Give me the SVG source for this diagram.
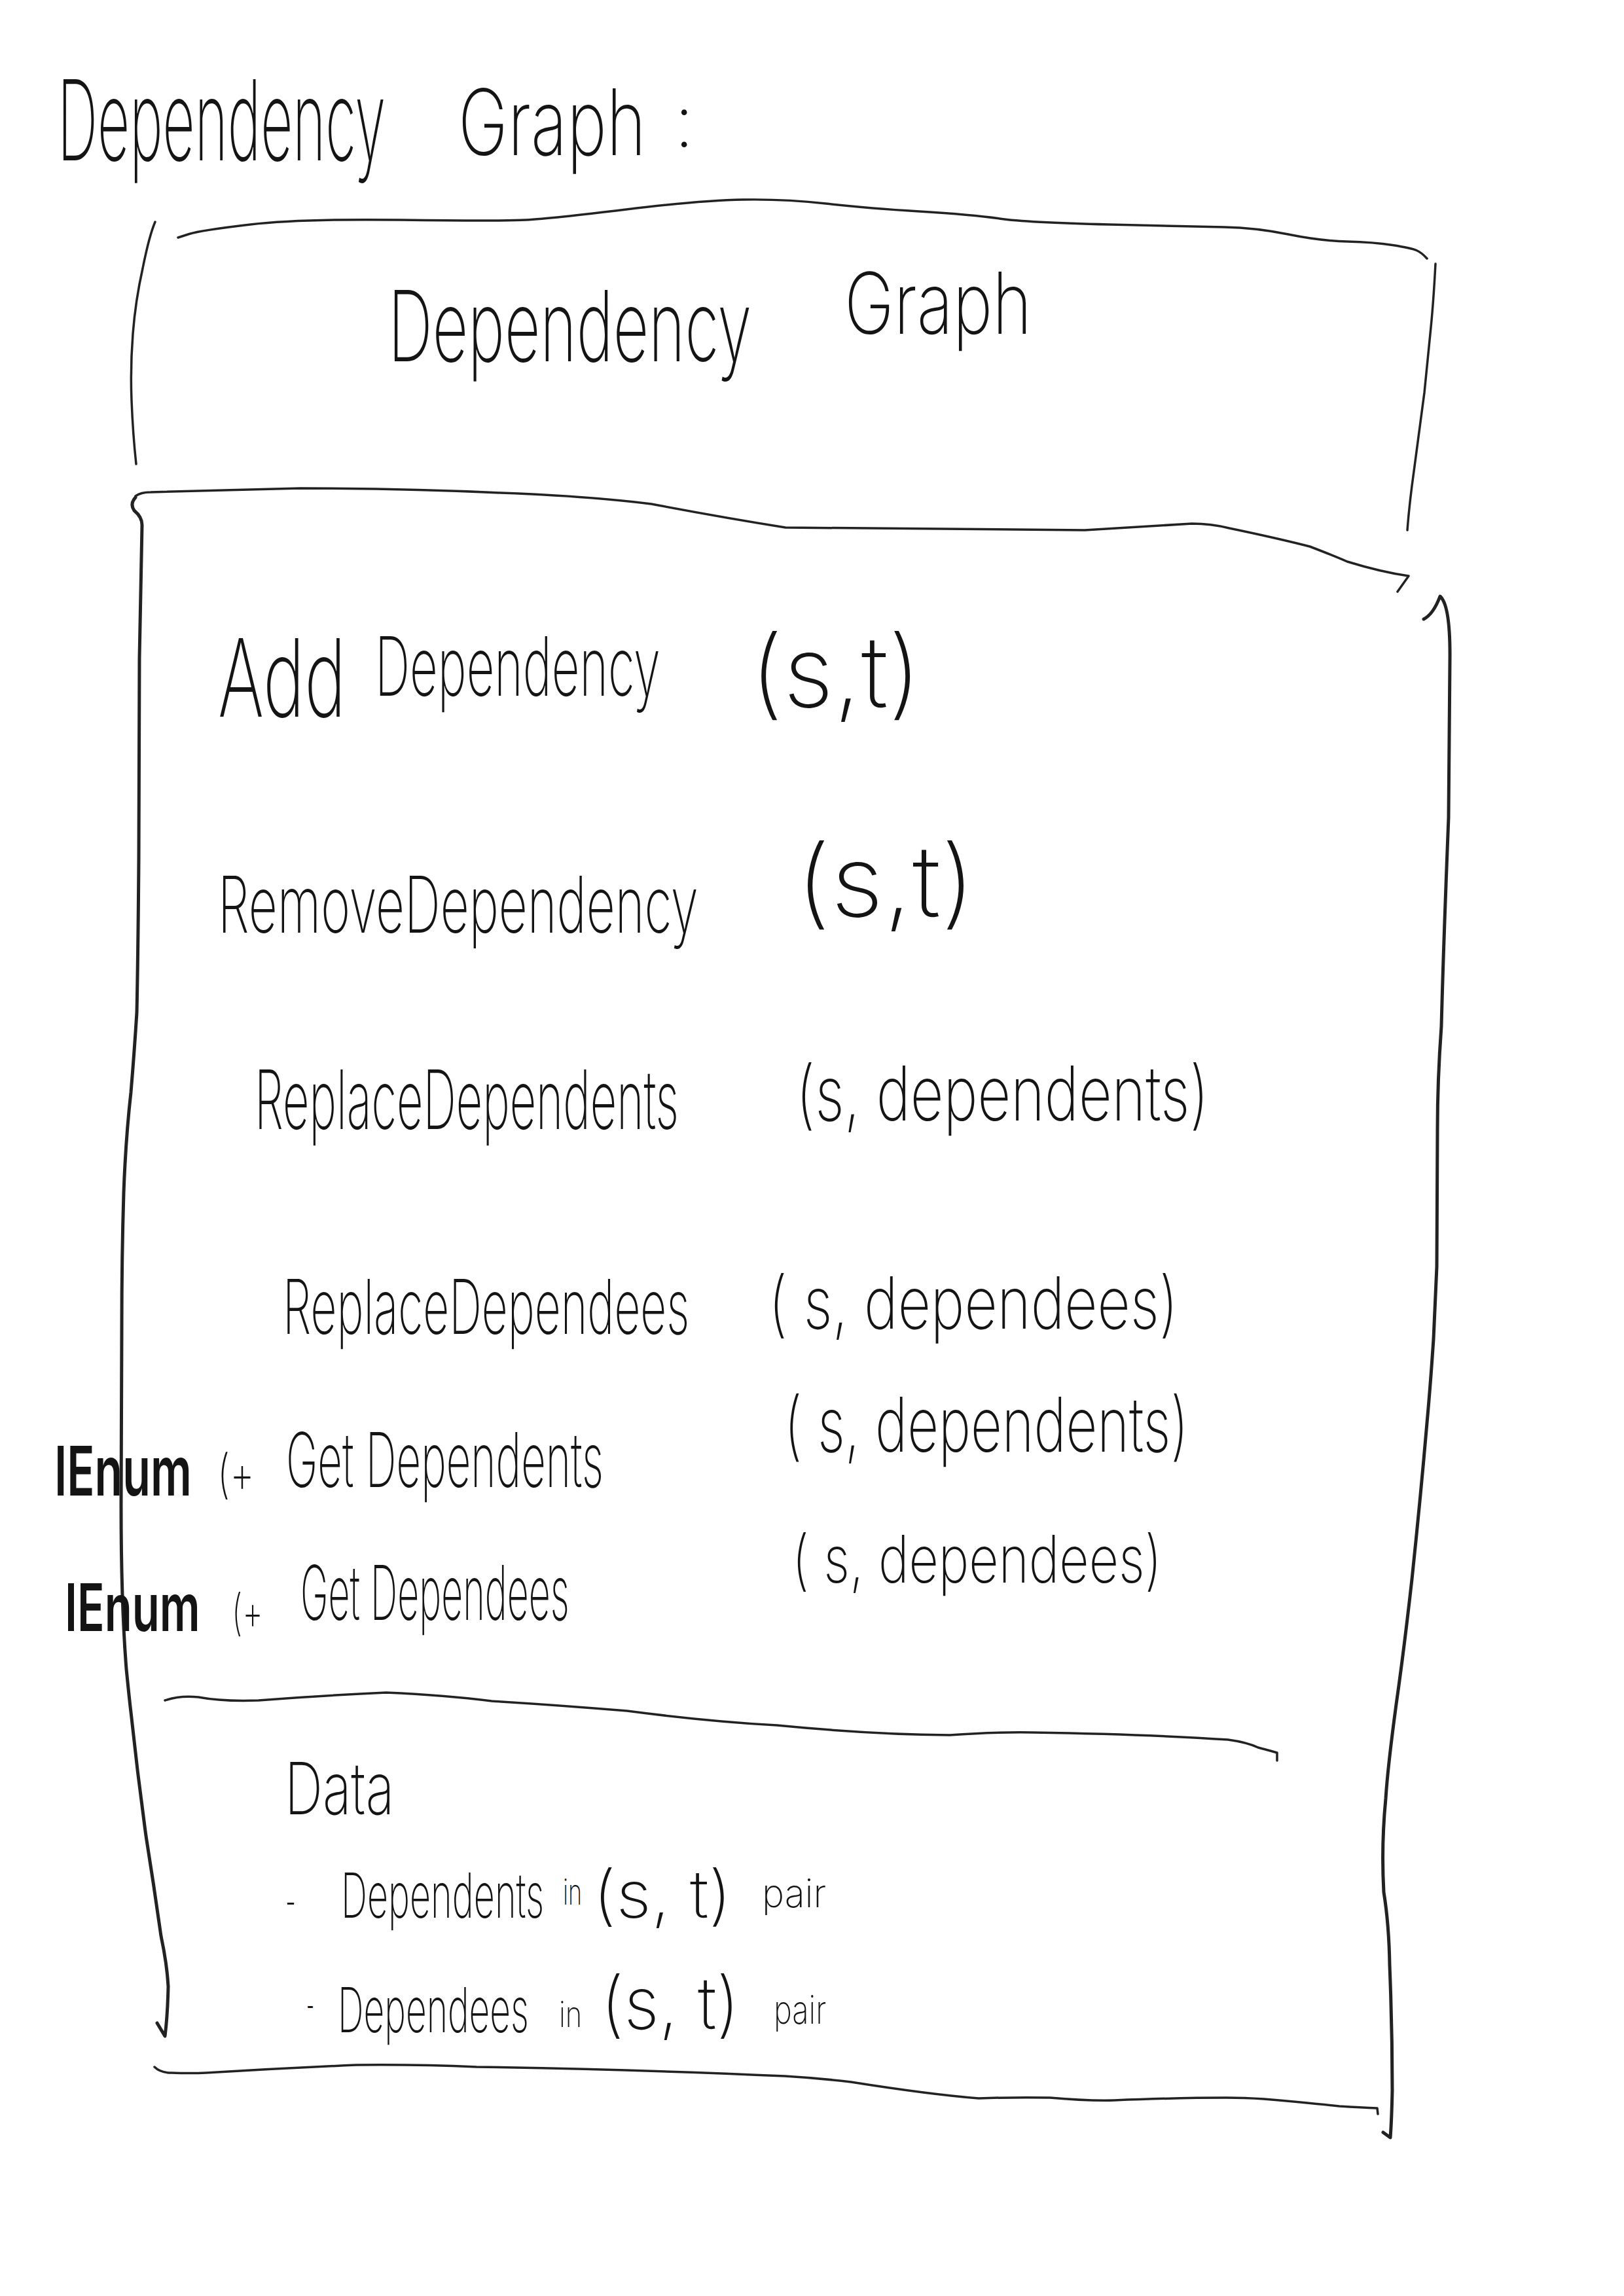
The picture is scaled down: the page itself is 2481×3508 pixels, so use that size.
<svg xmlns="http://www.w3.org/2000/svg" width="2481" height="3508" viewBox="0 0 2481 3508">
  <style>
    .ln { fill: none; stroke: #222; stroke-width: 3.5; stroke-linecap: round; stroke-linejoin: round; }
    .thick { stroke-width: 5; }
    .hw { font-family: "Inter", "Open Sans", "Liberation Sans", sans-serif; font-weight: 200; fill: #141414; }
    .bold { font-weight: 600; }
  </style>
  <rect width="2481" height="3508" fill="#ffffff"/>

  <!-- page heading; glyphs are narrowed to a handwritten proportion -->
  <g id="heading" class="hw">
    <text transform="translate(88 245) scale(0.456 1)" font-size="170" textLength="1099" lengthAdjust="spacingAndGlyphs">Dependency</text>
    <text transform="translate(700 237) scale(0.652 1)" font-size="140" textLength="440" lengthAdjust="spacingAndGlyphs">Graph</text>
    <text x="1030" y="224" font-size="110">:</text>
  </g>

  <!-- class name compartment -->
  <g id="class-name">
    <path class="ln" d="M272,363 L289,357.5 Q306,352 382.5,343 Q459,334 612,336 Q765,338 803.5,336 Q842,334 956.5,320 Q1071,306 1135.5,305 Q1200,304 1261.5,311 Q1323,318 1404.5,323 Q1486,328 1527,334 Q1568,340 1694.5,343 Q1821,346 1870,347 Q1919,348 1968,358 Q2017,368 2058,369 Q2099,370 2127.5,374.5 Q2156,379 2164,382.5 Q2172,386 2180,395"/>
    <path class="ln" d="M237,339 Q228,360 218,410 Q207,459 203,510 Q199,561 201,612 Q203,663 208,709"/>
    <path class="ln" d="M2193,403 Q2190,460 2186,500 Q2180,560 2176,600 Q2168,660 2160,720 Q2153,770 2150,810"/>
    <g class="hw">
      <text transform="translate(593 552) scale(0.573 1)" font-size="150" textLength="969" lengthAdjust="spacingAndGlyphs">Dependency</text>
      <text transform="translate(1290 510) scale(0.70 1)" font-size="130" textLength="409" lengthAdjust="spacingAndGlyphs">Graph</text>
    </g>
  </g>

  <!-- operations compartment -->
  <g id="operations">
    <path class="ln" d="M207,758 Q215,752 230,752 L459,746 Q620,746 765,753 Q900,758 995,770 Q1100,790 1200,806 L1657,810 Q1760,804 1821,800 Q1850,800 1878,807 Q1950,822 2001,835 Q2040,850 2058,858 Q2110,874 2152,880 L2135,904"/>
    <path class="ln thick" d="M207,760 Q198,770 205,780 Q217,790 217,802 L213,1006 L212,1312 Q211,1450 209,1547 Q205,1610 200,1669 Q192,1740 189,1822 Q186,1920 186,2027 L185,2300 Q185,2450 193,2550 Q198,2600 200,2616 Q210,2710 223,2805 Q235,2880 246,2958 Q255,3000 257,3035 Q256,3080 252,3111 L240,3091"/>
    <path class="ln thick" d="M2175,946 Q2190,938 2200,911 Q2216,925 2215,1009 L2213,1249 Q2205,1450 2202,1568 Q2196,1650 2196,1727 L2195,1935 Q2192,2000 2190,2046 Q2185,2120 2180,2174 Q2170,2290 2157,2413 Q2145,2520 2133,2604 Q2120,2700 2117,2748 Q2110,2820 2114,2891 Q2122,2940 2123,3003 Q2127,3100 2127,3194 Q2126,3240 2124,3266 L2113,3258"/>
    <g class="hw">
      <text transform="translate(333 1095) scale(0.566 1)" font-size="165" textLength="345" lengthAdjust="spacingAndGlyphs">Add</text>
      <text transform="translate(573 1063) scale(0.540 1)" font-size="125" textLength="807" lengthAdjust="spacingAndGlyphs">Dependency</text>
      <text transform="translate(1146 1080) scale(0.865 1)" font-size="150" textLength="302" lengthAdjust="spacingAndGlyphs">(s,t)</text>

      <text transform="translate(333 1425) scale(0.576 1)" font-size="120" textLength="1274" lengthAdjust="spacingAndGlyphs">RemoveDependency</text>
      <text transform="translate(1216 1400) scale(0.908 1)" font-size="150" textLength="302" lengthAdjust="spacingAndGlyphs">(s,t)</text>

      <text transform="translate(389 1725) scale(0.502 1)" font-size="125" textLength="1291" lengthAdjust="spacingAndGlyphs">ReplaceDependents</text>
      <text transform="translate(1216 1712) scale(0.687 1)" font-size="115" textLength="918" lengthAdjust="spacingAndGlyphs">(s, dependents)</text>

      <text transform="translate(432 2038) scale(0.544 1)" font-size="115" textLength="1142" lengthAdjust="spacingAndGlyphs">ReplaceDependees</text>
      <text transform="translate(1174 2030) scale(0.720 1)" font-size="110" textLength="869" lengthAdjust="spacingAndGlyphs">( s, dependees)</text>

      <text class="bold" transform="translate(83 2285) scale(0.596 1)" font-size="105" textLength="352" lengthAdjust="spacingAndGlyphs">IEnum</text>
      <text transform="translate(332 2280) scale(0.675 1)" font-size="80" textLength="84" lengthAdjust="spacingAndGlyphs">(+</text>
      <text transform="translate(437 2272) scale(0.503 1)" font-size="115" textLength="964" lengthAdjust="spacingAndGlyphs">Get Dependents</text>
      <text transform="translate(1198 2218) scale(0.647 1)" font-size="115" textLength="955" lengthAdjust="spacingAndGlyphs">( s, dependents)</text>

      <text class="bold" transform="translate(99 2492) scale(0.617 1)" font-size="100" textLength="335" lengthAdjust="spacingAndGlyphs">IEnum</text>
      <text transform="translate(354 2490) scale(0.606 1)" font-size="75" textLength="79" lengthAdjust="spacingAndGlyphs">(+</text>
      <text transform="translate(459 2475) scale(0.448 1)" font-size="115" textLength="917" lengthAdjust="spacingAndGlyphs">Get Dependees</text>
      <text transform="translate(1210 2418) scale(0.715 1)" font-size="100" textLength="790" lengthAdjust="spacingAndGlyphs">( s, dependees)</text>
    </g>
  </g>

  <!-- data compartment -->
  <g id="data">
    <path class="ln" d="M252,2598 Q275,2590 303,2593 Q340,2600 395,2598 Q500,2590 590,2586 Q680,2590 751,2599 Q850,2605 958,2614 Q1080,2630 1187,2636 Q1330,2650 1451,2651 Q1520,2646 1578,2647 Q1760,2650 1876,2658 Q1905,2662 1922,2670 Q1945,2676 1951,2678 L1951,2690"/>
    <path class="ln" d="M236,3158 Q245,3167 262,3167 Q290,3168 315,3167 Q430,3160 544,3155 Q640,3154 728,3158 Q980,3162 1199,3172 Q1250,3175 1300,3181 Q1420,3200 1495,3206 Q1550,3204 1604,3205 Q1660,3210 1702,3209 Q1800,3205 1874,3205 Q1900,3205 1931,3207 Q2000,3213 2046,3218 Q2080,3220 2104,3221 L2105,3230"/>
    <g class="hw">
      <text transform="translate(435 2772) scale(0.624 1)" font-size="110" textLength="268" lengthAdjust="spacingAndGlyphs">Data</text>

      <text transform="translate(436 2930) scale(0.457 1)" font-size="70" textLength="35" lengthAdjust="spacingAndGlyphs">-</text>
      <text transform="translate(521 2930) scale(0.524 1)" font-size="95" textLength="592" lengthAdjust="spacingAndGlyphs">Dependents</text>
      <text transform="translate(860 2910) scale(0.585 1)" font-size="55" textLength="50" lengthAdjust="spacingAndGlyphs">in</text>
      <text transform="translate(906 2930) scale(0.913 1)" font-size="100" textLength="232" lengthAdjust="spacingAndGlyphs">(s, t)</text>
      <text transform="translate(1164 2914) scale(0.84 1)" font-size="60" textLength="117" lengthAdjust="spacingAndGlyphs">pair</text>

      <text transform="translate(468 3088) scale(0.343 1)" font-size="70" textLength="35" lengthAdjust="spacingAndGlyphs">-</text>
      <text transform="translate(516 3105) scale(0.528 1)" font-size="95" textLength="553" lengthAdjust="spacingAndGlyphs">Dependees</text>
      <text transform="translate(854 3097) scale(0.706 1)" font-size="55" textLength="50" lengthAdjust="spacingAndGlyphs">in</text>
      <text transform="translate(918 3100) scale(0.83 1)" font-size="110" textLength="255" lengthAdjust="spacingAndGlyphs">(s, t)</text>
      <text transform="translate(1182 3092) scale(0.686 1)" font-size="60" textLength="117" lengthAdjust="spacingAndGlyphs">pair</text>
    </g>
  </g>
</svg>
